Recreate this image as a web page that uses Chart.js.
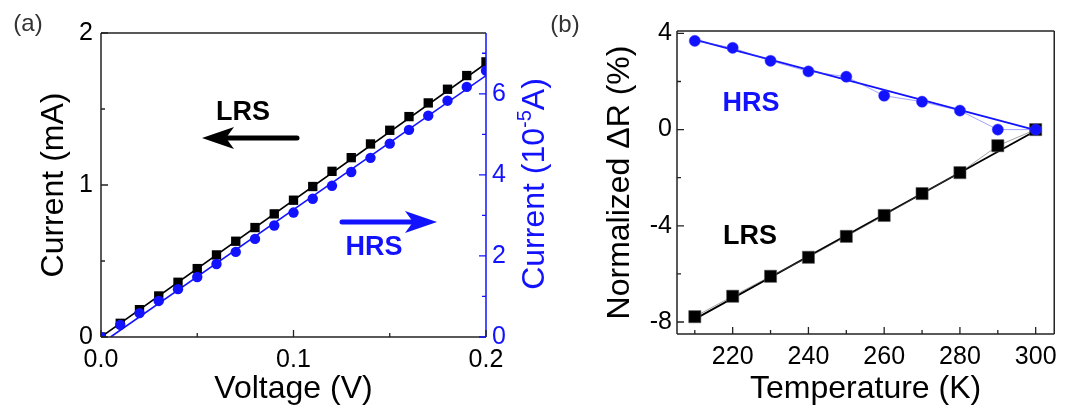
<!DOCTYPE html>
<html lang="en">
<head>
<meta charset="UTF-8">
<title>I-V and Normalized dR</title>
<script src="https://cdn.jsdelivr.net/npm/chart.js"></script>
<style>
  body { margin: 0; background: #fff; }
  .panel { position: absolute; top: 0; height: 410px; }
  #boxA { left: 0; width: 560px; }
  #boxB { left: 540px; width: 525px; }
</style>
</head>
<body>
<div class="panel" id="boxA"><canvas id="chartA"></canvas></div>
<div class="panel" id="boxB"><canvas id="chartB"></canvas></div>

<script>
  // panel (a) - I-V
  const voltage = [0, 0.01, 0.02, 0.03, 0.04, 0.05, 0.06, 0.07, 0.08, 0.09, 0.10,
                   0.11, 0.12, 0.13, 0.14, 0.15, 0.16, 0.17, 0.18, 0.19, 0.20];
  const lrsCurrent = [0, 0.09, 0.18, 0.27, 0.36, 0.45, 0.54, 0.63, 0.72, 0.81, 0.90,
                      0.99, 1.09, 1.18, 1.27, 1.36, 1.45, 1.54, 1.63, 1.72, 1.81];   // mA
  const hrsCurrent = [0, 0.30, 0.59, 0.89, 1.18, 1.48, 1.80, 2.10, 2.42, 2.75, 3.07,
                      3.41, 3.73, 4.07, 4.42, 4.77, 5.11, 5.46, 5.83, 6.17, 6.57];   // 1e-5 A
  const lrsFitV = [0, 0.2];
  const lrsFitI = [0, 1.80];
  const hrsFitV = [0.005, 0.2];
  const hrsFitI = [0, 6.45];
  const voltTicks = [0, 0.1, 0.2];
  const voltMinor = [0.05, 0.15];
  const mATicks = [0, 1, 2];
  const mAMinor = [0.5, 1.5];
  const hrsTicks = [0, 2, 4, 6];
  const hrsMinor = [1, 3, 5, 7];

  // panel (b) - normalized dR vs temperature
  const temperature = [210, 220, 230, 240, 250, 260, 270, 280, 290, 300];
  const hrsDR = [3.69, 3.40, 2.86, 2.42, 2.20, 1.41, 1.16, 0.79, 0.0, 0.0];
  const lrsDR = [-7.78, -6.93, -6.10, -5.31, -4.44, -3.57, -2.66, -1.79, -0.67, 0.0];
  const hrsFitT = [210, 300];
  const hrsFitR = [3.74, -0.02];
  const lrsFitT = [210, 300];
  const lrsFitR = [-7.88, -0.05];
  const tempTicks = [220, 240, 260, 280, 300];
  const tempMinor = [210, 230, 250, 270, 290];
  const drTicks = [-8, -4, 0, 4];
  const drMinor = [-6, -2, 2];

  const BLUE = 'rgb(18,18,255)';
  const FONT = 'Liberation Sans, Arial, sans-serif';
  Chart.defaults.font.family = FONT;
  Chart.defaults.color = '#000';

  const pts = (xs, ys) => xs.map((x, i) => ({ x: x, y: ys[i] }));
  const fixTicks = vals => scale => { scale.ticks = vals.map(v => ({ value: v })); };

  function axisLine(ctx, x1, y1, x2, y2, color) {
    ctx.save();
    ctx.strokeStyle = color;
    ctx.lineWidth = 1.5;
    ctx.beginPath();
    ctx.moveTo(x1, y1);
    ctx.lineTo(x2, y2);
    ctx.stroke();
    ctx.restore();
  }

  // inward ticks
  function ticksOn(ctx, scale, vals, len, side, color) {
    ctx.save();
    ctx.strokeStyle = color;
    ctx.lineWidth = 1.3;
    ctx.beginPath();
    vals.forEach(v => {
      const p = scale.getPixelForValue(v);
      if (side === 'bottom') { ctx.moveTo(p, scale.top); ctx.lineTo(p, scale.top - len); }
      if (side === 'left') { ctx.moveTo(scale.right, p); ctx.lineTo(scale.right + len, p); }
      if (side === 'right') { ctx.moveTo(scale.left, p); ctx.lineTo(scale.left - len, p); }
    });
    ctx.stroke();
    ctx.restore();
  }

  function label(ctx, text, x, y, color, font) {
    ctx.save();
    ctx.fillStyle = color;
    ctx.font = font;
    ctx.textAlign = 'center';
    ctx.textBaseline = 'middle';
    ctx.fillText(text, x, y);
    ctx.restore();
  }

  function arrow(ctx, tailX, tipX, y, color) {
    const dir = tipX > tailX ? 1 : -1;
    ctx.save();
    ctx.strokeStyle = color;
    ctx.fillStyle = color;
    ctx.lineWidth = 5;
    ctx.lineCap = 'round';
    ctx.beginPath();
    ctx.moveTo(tailX, y);
    ctx.lineTo(tipX - dir * 14, y);
    ctx.stroke();
    ctx.beginPath();
    ctx.moveTo(tipX, y);
    ctx.lineTo(tipX - dir * 32, y - 11);
    ctx.lineTo(tipX - dir * 24, y);
    ctx.lineTo(tipX - dir * 32, y + 11);
    ctx.closePath();
    ctx.fill();
    ctx.restore();
  }

  const titleFont = { size: 32 };
  const tickFont = { size: 25 };

  // ---------- panel (a)
  const decorA = {
    id: 'decorA',
    afterDraw(chart) {
      const ctx = chart.ctx, a = chart.chartArea, s = chart.scales;
      axisLine(ctx, a.left, a.top, a.right, a.top, '#222');
      axisLine(ctx, a.left, a.bottom, a.right, a.bottom, '#222');
      axisLine(ctx, a.left, a.top, a.left, a.bottom, '#222');
      axisLine(ctx, a.right, a.top, a.right, a.bottom, BLUE);
      ticksOn(ctx, s.x, voltTicks, 7, 'bottom', '#222');
      ticksOn(ctx, s.x, voltMinor, 4, 'bottom', '#222');
      ticksOn(ctx, s.y, mATicks, 7, 'left', '#222');
      ticksOn(ctx, s.y, mAMinor, 4, 'left', '#222');
      ticksOn(ctx, s.y2, hrsTicks, 7, 'right', BLUE);
      ticksOn(ctx, s.y2, hrsMinor, 4, 'right', BLUE);

      label(ctx, '(a)', 28, 24, '#333', '24px ' + FONT);
      label(ctx, 'LRS', 243, 113, '#000', 'bold 27px ' + FONT);
      label(ctx, 'HRS', 374, 248, BLUE, 'bold 27px ' + FONT);
      arrow(ctx, 297, 202, 138, '#000');
      arrow(ctx, 342, 437, 222, BLUE);

      // right axis title with superscript
      ctx.save();
      ctx.translate(533, 184);
      ctx.rotate(-Math.PI / 2);
      ctx.fillStyle = BLUE;
      ctx.textBaseline = 'alphabetic';
      const big = '32px ' + FONT, small = '20px ' + FONT;
      const parts = [['Current (10', big, 0], ['-5', small, -13], ['A)', big, 0]];
      let w = 0;
      parts.forEach(p => { ctx.font = p[1]; w += ctx.measureText(p[0]).width; });
      let x = -w / 2;
      parts.forEach(p => {
        ctx.font = p[1];
        ctx.fillText(p[0], x, 11 + p[2]);
        x += ctx.measureText(p[0]).width;
      });
      ctx.restore();
    }
  };

  new Chart(document.getElementById('chartA'), {
    type: 'scatter',
    data: {
      datasets: [
        { label: 'HRS', data: pts(voltage, hrsCurrent), yAxisID: 'y2', pointStyle: 'circle',
          pointRadius: 5.2, backgroundColor: BLUE, borderColor: BLUE, borderWidth: 0 },
        { label: 'LRS', data: pts(voltage, lrsCurrent), yAxisID: 'y', pointStyle: 'rect',
          pointRadius: 6.6, backgroundColor: '#000', borderColor: '#000', borderWidth: 0 },
        { label: 'HRS fit', data: pts(hrsFitV, hrsFitI), yAxisID: 'y2', showLine: true,
          pointRadius: 0, borderColor: BLUE, borderWidth: 1.6 },
        { label: 'LRS fit', data: pts(lrsFitV, lrsFitI), yAxisID: 'y', showLine: true,
          pointRadius: 0, borderColor: '#000', borderWidth: 1.6 }
      ]
    },
    options: {
      responsive: true,
      maintainAspectRatio: false,
      animation: false,
      layout: { padding: { top: 33, right: 0, left: 0, bottom: 0 } },
      plugins: { legend: { display: false }, tooltip: { enabled: false } },
      scales: {
        x: {
          type: 'linear', position: 'bottom', min: 0, max: 0.2,
          afterBuildTicks: fixTicks(voltTicks),
          afterFit: sc => { sc.height = 73; },
          grid: { display: false, drawTicks: false },
          border: { display: false },
          ticks: { font: tickFont, padding: 8, maxRotation: 0, autoSkip: false,
                   callback: v => v.toFixed(1) },
          title: { display: true, text: 'Voltage (V)', font: titleFont, padding: { bottom: 2 } }
        },
        y: {
          type: 'linear', position: 'left', min: 0, max: 2,
          afterBuildTicks: fixTicks(mATicks),
          afterFit: sc => { sc.width = 101; },
          grid: { display: false, drawTicks: false },
          border: { display: false },
          ticks: { font: tickFont, padding: 8, autoSkip: false },
          title: { display: true, text: 'Current (mA)', font: titleFont, padding: { top: 35 } }
        },
        y2: {
          type: 'linear', position: 'right', min: 0, max: 7.5,
          afterBuildTicks: fixTicks(hrsTicks),
          afterFit: sc => { sc.width = 74; },
          grid: { display: false, drawTicks: false },
          border: { display: false },
          ticks: { font: tickFont, padding: 6, color: BLUE, autoSkip: false }
        }
      }
    },
    plugins: [decorA]
  });

  // ---------- panel (b)
  const decorB = {
    id: 'decorB',
    afterDraw(chart) {
      const ctx = chart.ctx, a = chart.chartArea, s = chart.scales;
      axisLine(ctx, a.left, a.top, a.right, a.top, '#222');
      axisLine(ctx, a.left, a.bottom, a.right, a.bottom, '#222');
      axisLine(ctx, a.left, a.top, a.left, a.bottom, '#222');
      axisLine(ctx, a.right, a.top, a.right, a.bottom, '#222');
      ticksOn(ctx, s.x, tempTicks, 7, 'bottom', '#222');
      ticksOn(ctx, s.x, tempMinor, 4, 'bottom', '#222');
      ticksOn(ctx, s.y, drTicks, 7, 'left', '#222');
      ticksOn(ctx, s.y, drMinor, 4, 'left', '#222');

      label(ctx, '(b)', 25, 25, '#333', '24px ' + FONT);
      label(ctx, 'HRS', 751 - 540, 104, BLUE, 'bold 27px ' + FONT);
      label(ctx, 'LRS', 750 - 540, 237, '#000', 'bold 27px ' + FONT);
    }
  };

  new Chart(document.getElementById('chartB'), {
    type: 'scatter',
    data: {
      datasets: [
        { label: 'HRS', data: pts(temperature, hrsDR), showLine: true, pointStyle: 'circle',
          pointRadius: 5.6, backgroundColor: BLUE, borderColor: 'rgba(60,60,255,0.6)', borderWidth: 0.8,
          clip: false },
        { label: 'HRS fit', data: pts(hrsFitT, hrsFitR), showLine: true, pointRadius: 0,
          borderColor: BLUE, borderWidth: 1.8 },
        { label: 'LRS', data: pts(temperature, lrsDR), showLine: true, pointStyle: 'rect',
          pointRadius: 8.6, backgroundColor: '#000', borderColor: 'rgba(90,90,90,0.7)', borderWidth: 0.8,
          clip: false },
        { label: 'LRS fit', data: pts(lrsFitT, lrsFitR), showLine: true, pointRadius: 0,
          borderColor: '#000', borderWidth: 1.8 }
      ]
    },
    options: {
      responsive: true,
      maintainAspectRatio: false,
      animation: false,
      layout: { padding: { top: 31, right: 4, left: 0, bottom: 0 } },
      plugins: { legend: { display: false }, tooltip: { enabled: false } },
      scales: {
        x: {
          type: 'linear', position: 'bottom', min: 205.3, max: 304.9,
          afterBuildTicks: fixTicks(tempTicks),
          afterFit: sc => { sc.height = 76; },
          grid: { display: false, drawTicks: false },
          border: { display: false },
          ticks: { font: tickFont, padding: 8, maxRotation: 0, autoSkip: false },
          title: { display: true, text: 'Temperature (K)', font: titleFont, padding: { bottom: 2 } }
        },
        y: {
          type: 'linear', position: 'left', min: -8.5, max: 4.1,
          afterBuildTicks: fixTicks(drTicks),
          afterFit: sc => { sc.width = 137; },
          grid: { display: false, drawTicks: false },
          border: { display: false },
          ticks: { font: tickFont, padding: 5, autoSkip: false },
          title: { display: true, text: 'Normalized \u0394R (%)', font: titleFont, padding: { top: 61 } }
        }
      }
    },
    plugins: [decorB]
  });
</script>
</body>
</html>
